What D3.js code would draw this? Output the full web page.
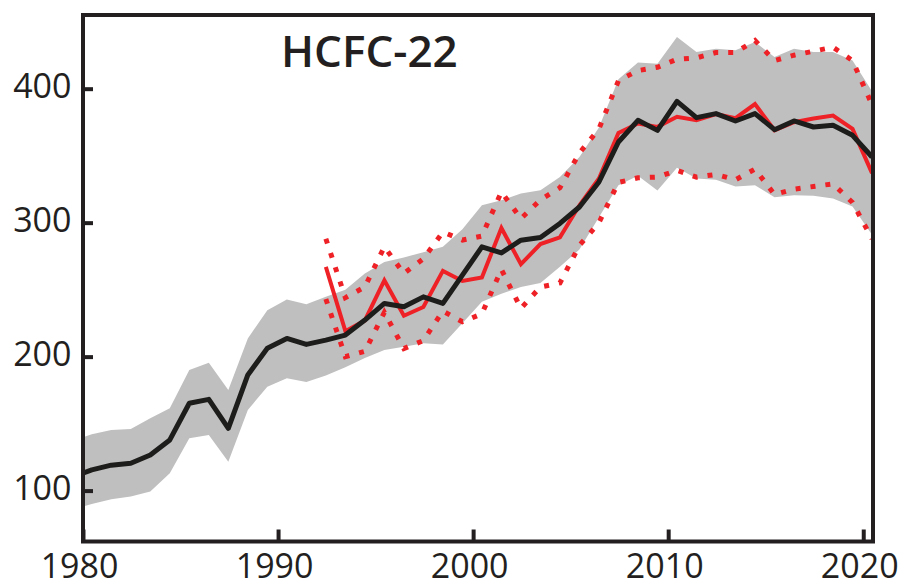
<!DOCTYPE html>
<html>
<head>
<meta charset="utf-8">
<script src="https://cdn.jsdelivr.net/npm/d3@7"></script>
<style>
  body { margin: 0; background: #fff }
  svg { display: block }
  text { font-family: "Open Sans", sans-serif; fill: #231f20 }
</style>
</head>
<body>
<svg id="chart" width="905" height="581"></svg>
<script>
// annual values, model estimate (black) and its range (grey)
var years = d3.range(1979, 2021)
var central = [110, 115.5, 119, 120.4, 126.6, 137.8, 165.2, 168.1, 146.5, 186.3,
  206.2, 213.6, 209.1, 212.3, 216.1, 227.3, 239.7, 237.2, 244.6, 239.7,
  260.8, 281.9, 277.4, 286.9, 288.9, 299.4, 311.7, 330.4, 360.2, 376.4,
  368.9, 390.5, 378.4, 381.4, 375.9, 381.4, 369.4, 375.9, 371.4, 372.7,
  365.2, 349]
var bandHigh = [137, 142, 145.3, 146, 154, 161.4, 190, 195.4, 175, 213.6,
  234.7, 242.7, 239, 244.6, 250, 262, 270.7, 274, 278, 282,
  295, 313, 316.7, 321.7, 324.2, 334, 349, 371, 407, 419.5,
  418.6, 438.5, 427.3, 429.8, 428.6, 434.8, 423.6, 429.8, 427.3, 427.3,
  421, 398]
var bandLow = [86, 90, 93.6, 95.5, 99.3, 113, 139, 141.5, 121.6, 160.2,
  177.5, 183.8, 181, 186, 192, 199, 205, 207.4, 210, 209,
  225, 241, 247, 252, 255, 267, 280, 304, 328, 335,
  324, 341, 333, 332, 327, 328, 319, 320.5, 320, 318,
  312, 291]

// second estimate (red) with its bounds (dotted)
var redYears = d3.range(1992, 2021)
var redCentral = [267, 219, 227, 257, 230.5, 237, 264, 256.5, 259, 296,
  269, 284, 289, 313, 333, 367, 374, 371.5, 379, 376.4,
  381, 378, 388.5, 369, 375, 377.7, 380, 370, 337]
var redHigh = [288, 244, 252, 282, 262, 273, 293, 287, 290, 323,
  303, 317, 326, 352, 370, 406, 413.5, 416, 422, 423,
  427, 427, 436, 421, 425, 428, 431, 421, 388]
var redLow = [243, 200, 204, 233, 206, 212, 234, 226, 232, 265,
  236, 252, 255, 283, 300, 330, 333.5, 334, 339, 334,
  336, 332, 340, 321, 325, 327, 329, 315, 288]

var xTicks = [1980, 1990, 2000, 2010, 2020]
var yTicks = [100, 200, 300, 400]
var title = "HCFC-22"

var plotL = 83, plotR = 873, plotT = 15, plotB = 541.5
var mid = 0.45 // values sit at mid-year

var svg = d3.select("#chart")

var x = d3.scaleLinear().domain([1980, 2020.5]).range([plotL, plotR])
var y = d3.scaleLinear().domain([62, 455]).range([plotB, plotT])

svg.append("clipPath").attr("id", "plot")
  .append("rect")
  .attr("x", plotL).attr("y", plotT)
  .attr("width", plotR - plotL).attr("height", plotB - plotT)

var g = svg.append("g").attr("clip-path", "url(#plot)")

var band = years.map(function (d, i) { return { t: d + mid, lo: bandLow[i], hi: bandHigh[i], c: central[i] } })
var red = redYears.map(function (d, i) { return { t: d + mid, lo: redLow[i], hi: redHigh[i], c: redCentral[i] } })

g.append("path")
  .datum(band)
  .attr("fill", "#c0bfbf")
  .attr("d", d3.area()
    .x(function (d) { return x(d.t) })
    .y0(function (d) { return y(d.lo) })
    .y1(function (d) { return y(d.hi) }))

function line(key) {
  return d3.line()
    .x(function (d) { return x(d.t) })
    .y(function (d) { return y(d[key]) })
}

;["hi", "lo"].forEach(function (k) {
  g.append("path")
    .datum(red)
    .attr("fill", "none")
    .attr("stroke", "#ee2127")
    .attr("stroke-width", 5)
    .attr("stroke-dasharray", "5,10")
    .attr("d", line(k))
})

g.append("path")
  .datum(red)
  .attr("fill", "none")
  .attr("stroke", "#ee2127")
  .attr("stroke-width", 4)
  .attr("stroke-linejoin", "miter")
  .attr("d", line("c"))

g.append("path")
  .datum(band)
  .attr("fill", "none")
  .attr("stroke", "#1d1d1b")
  .attr("stroke-width", 5)
  .attr("stroke-linejoin", "round")
  .attr("d", line("c"))

// axes: inward ticks, frame drawn separately
var xAxis = d3.axisBottom(x).tickValues(xTicks).tickFormat(d3.format("d"))
  .tickSizeInner(-12).tickSizeOuter(0).tickPadding(12.5)
var yAxis = d3.axisLeft(y).tickValues(yTicks)
  .tickSizeInner(-10).tickSizeOuter(0).tickPadding(11.5)

var gx = svg.append("g").attr("transform", "translate(0," + plotB + ")").call(xAxis)
var gy = svg.append("g").attr("transform", "translate(" + plotL + ",0)").call(yAxis)

;[gx, gy].forEach(function (a) {
  a.select(".domain").remove()
  a.selectAll(".tick line").attr("stroke", "#231f20").attr("stroke-width", 4)
  a.selectAll(".tick text").attr("font-size", 34).attr("font-family", "Open Sans").attr("fill", "#231f20")
})
gx.selectAll(".tick text").attr("dx", -4)
gy.selectAll(".tick text").attr("dy", "0.25em")

svg.append("rect")
  .attr("x", plotL).attr("y", plotT)
  .attr("width", plotR - plotL).attr("height", plotB - plotT)
  .attr("fill", "none")
  .attr("stroke", "#231f20")
  .attr("stroke-width", 4)

svg.append("text")
  .attr("x", 281).attr("y", 66.5)
  .attr("font-size", 44)
  .attr("font-weight", 600)
  .text(title)
</script>
</body>
</html>
